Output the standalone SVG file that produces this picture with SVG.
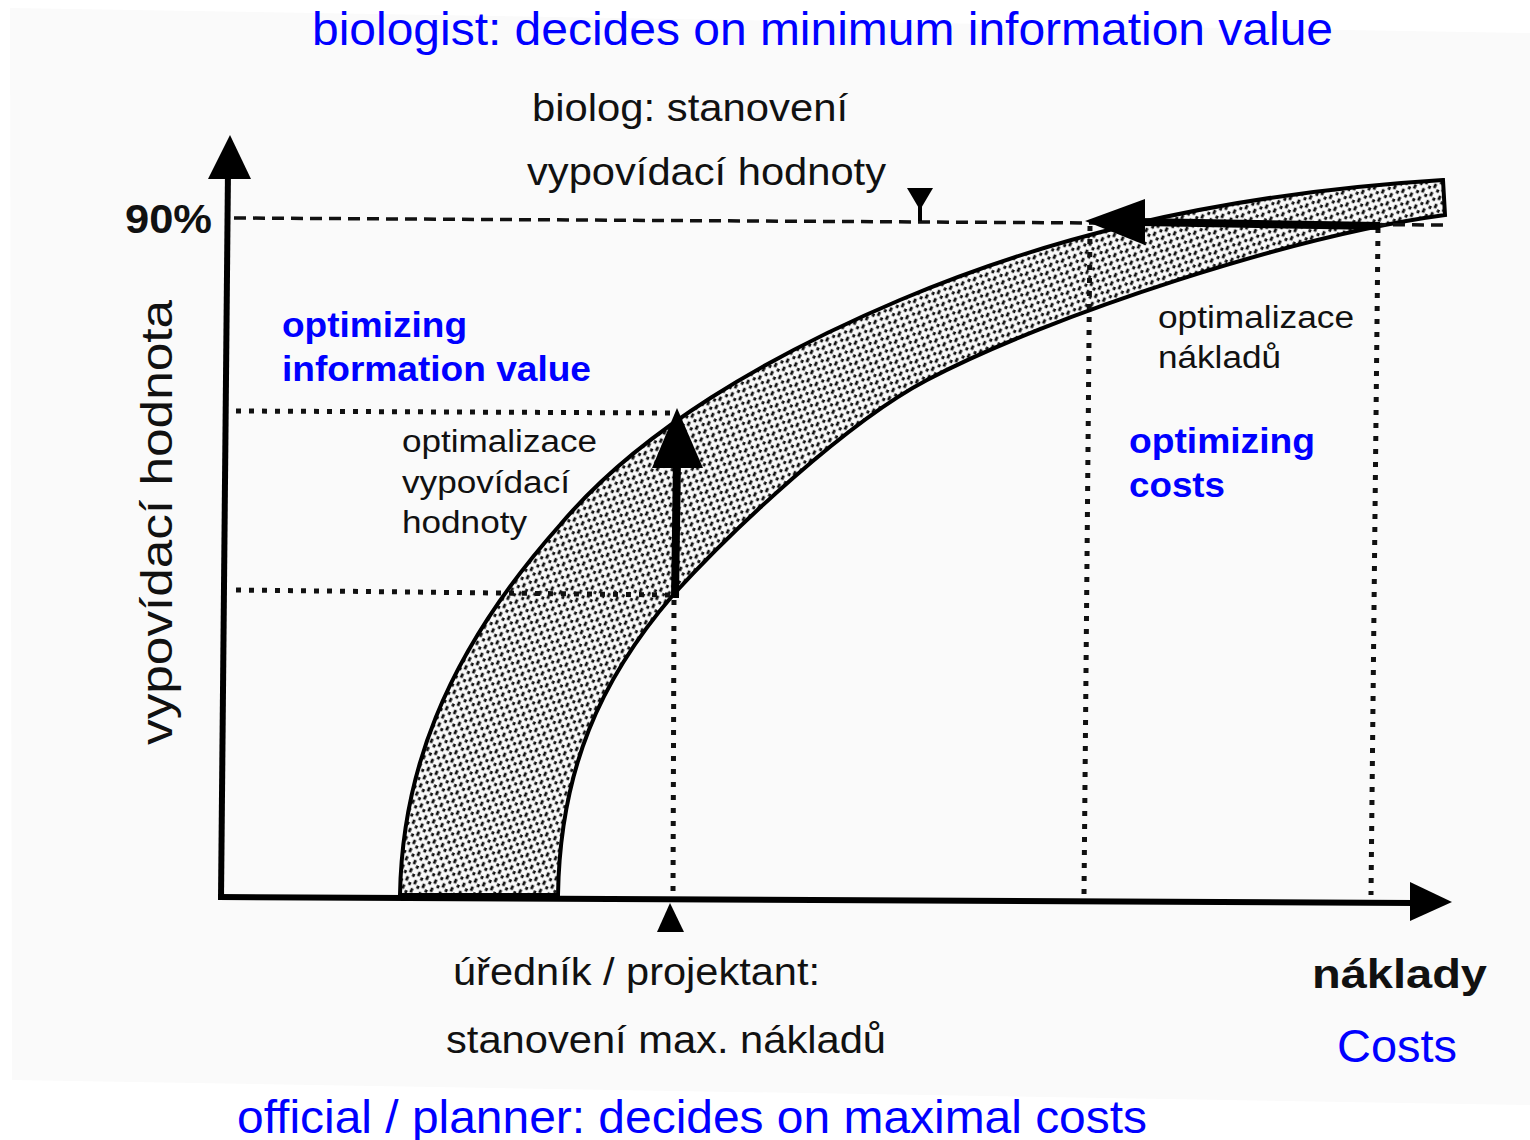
<svg xmlns="http://www.w3.org/2000/svg" width="1530" height="1140" viewBox="0 0 1530 1140">
<defs>
<pattern id="dots" width="9" height="9" patternUnits="userSpaceOnUse" patternTransform="rotate(25)">
<rect width="9" height="9" fill="#fafafa"/>
<rect x="0.8" y="0.8" width="2.8" height="4.5" fill="#111"/>
<rect x="5.3" y="5" width="2.8" height="3.2" fill="#111"/>
</pattern>
<style>
.bk{font-family:"Liberation Sans","DejaVu Sans",sans-serif;fill:#111}
.bl{font-family:"Liberation Sans","DejaVu Sans",sans-serif;fill:#0000ff}
.blb{font-family:"Liberation Sans","DejaVu Sans",sans-serif;fill:#0000ff;font-weight:bold}
.dash{stroke:#111;stroke-width:3.5;fill:none;stroke-dasharray:12 7}
.dot{stroke:#111;stroke-width:5;fill:none;stroke-dasharray:5 8}
.axis{stroke:#000;stroke-width:6;fill:none}
.arr{stroke:#000;stroke-width:8;fill:none}
</style>
</defs>
<rect width="1530" height="1140" fill="#ffffff"/>
<polygon points="10,8 1530,33 1530,1105 12,1080" fill="#fafafa"/>

<g id="band">
<path d="M400,895 C402,780 440,660 560,525 C640,430 770,355 900,300 C1030,245 1200,195 1443,180 L1445,215 C1295,235 1050,315 927,380 C847,422 733,529 673,595 C600,680 560,770 558,895 Z" fill="url(#dots)" stroke="#000" stroke-width="4"/>
</g>

<g id="connectors">
<line class="dash" x1="234" y1="218" x2="1445" y2="225"/>
<line class="dot" x1="236" y1="411" x2="672" y2="413"/>
<line class="dot" x1="236" y1="590" x2="672" y2="595"/>
<line class="dot" x1="674" y1="600" x2="673" y2="895"/>
<line class="dot" x1="1090" y1="226" x2="1084" y2="895"/>
<line class="dot" x1="1378" y1="228" x2="1371" y2="895"/>
<line class="arr" x1="675" y1="598" x2="677" y2="460"/>
<polygon points="677,408 652,468 703,468" fill="#000"/>
<line class="arr" x1="1380" y1="226" x2="1140" y2="222"/>
<polygon points="1085,221 1145,199 1145,245" fill="#000"/>
<polygon points="907,188 933,188 920,210" fill="#000"/>
<line x1="920" y1="205" x2="920" y2="221" stroke="#000" stroke-width="4"/>
<polygon points="670,903 657,932 684,932" fill="#000"/>
</g>

<g id="axes">
<line class="axis" x1="228" y1="170" x2="221" y2="899"/>
<polygon points="230,135 208,179 251,179" fill="#000"/>
<line class="axis" x1="218" y1="897" x2="1415" y2="903"/>
<polygon points="1452,902 1410,882 1410,921" fill="#000"/>
</g>

<g id="y-label">
<text class="bk" x="125" y="233" font-size="40" font-weight="bold" textLength="87" lengthAdjust="spacingAndGlyphs">90%</text>
<text class="bk" transform="translate(172,745) rotate(-90)" font-size="44" textLength="445" lengthAdjust="spacingAndGlyphs">vypovídací hodnota</text>
</g>

<g id="biolog">
<text class="bk" x="532" y="121" font-size="38" textLength="316" lengthAdjust="spacingAndGlyphs">biolog: stanovení</text>
<text class="bk" x="527" y="185" font-size="38" textLength="359" lengthAdjust="spacingAndGlyphs">vypovídací hodnoty</text>
</g>

<g id="opt-value">
<text class="bk" x="402" y="452" font-size="31" textLength="195" lengthAdjust="spacingAndGlyphs">optimalizace</text>
<text class="bk" x="402" y="493" font-size="31" textLength="168" lengthAdjust="spacingAndGlyphs">vypovídací</text>
<text class="bk" x="402" y="533" font-size="31" textLength="125" lengthAdjust="spacingAndGlyphs">hodnoty</text>
<text class="blb" x="282" y="337" font-size="35" textLength="185" lengthAdjust="spacingAndGlyphs">optimizing</text>
<text class="blb" x="282" y="381" font-size="35" textLength="309" lengthAdjust="spacingAndGlyphs">information value</text>
</g>

<g id="opt-costs">
<text class="bk" x="1158" y="328" font-size="31" textLength="196" lengthAdjust="spacingAndGlyphs">optimalizace</text>
<text class="bk" x="1158" y="368" font-size="31" textLength="123" lengthAdjust="spacingAndGlyphs">nákladů</text>
<text class="blb" x="1129" y="453" font-size="35" textLength="186" lengthAdjust="spacingAndGlyphs">optimizing</text>
<text class="blb" x="1129" y="497" font-size="35" textLength="96" lengthAdjust="spacingAndGlyphs">costs</text>
</g>

<g id="official">
<text class="bk" x="453" y="985" font-size="38" textLength="367" lengthAdjust="spacingAndGlyphs">úředník / projektant:</text>
<text class="bk" x="446" y="1053" font-size="38" textLength="440" lengthAdjust="spacingAndGlyphs">stanovení max. nákladů</text>
</g>

<g id="x-label">
<text class="bk" x="1312" y="988" font-size="40" font-weight="bold" textLength="175" lengthAdjust="spacingAndGlyphs">náklady</text>
<text class="bl" x="1337" y="1062" font-size="46" textLength="120" lengthAdjust="spacingAndGlyphs">Costs</text>
</g>

<g id="titles">
<text class="bl" x="312" y="45" font-size="46" textLength="1021" lengthAdjust="spacingAndGlyphs">biologist: decides on minimum information value</text>
<text class="bl" x="237" y="1133" font-size="46" textLength="910" lengthAdjust="spacingAndGlyphs">official / planner: decides on maximal costs</text>
</g>
</svg>
